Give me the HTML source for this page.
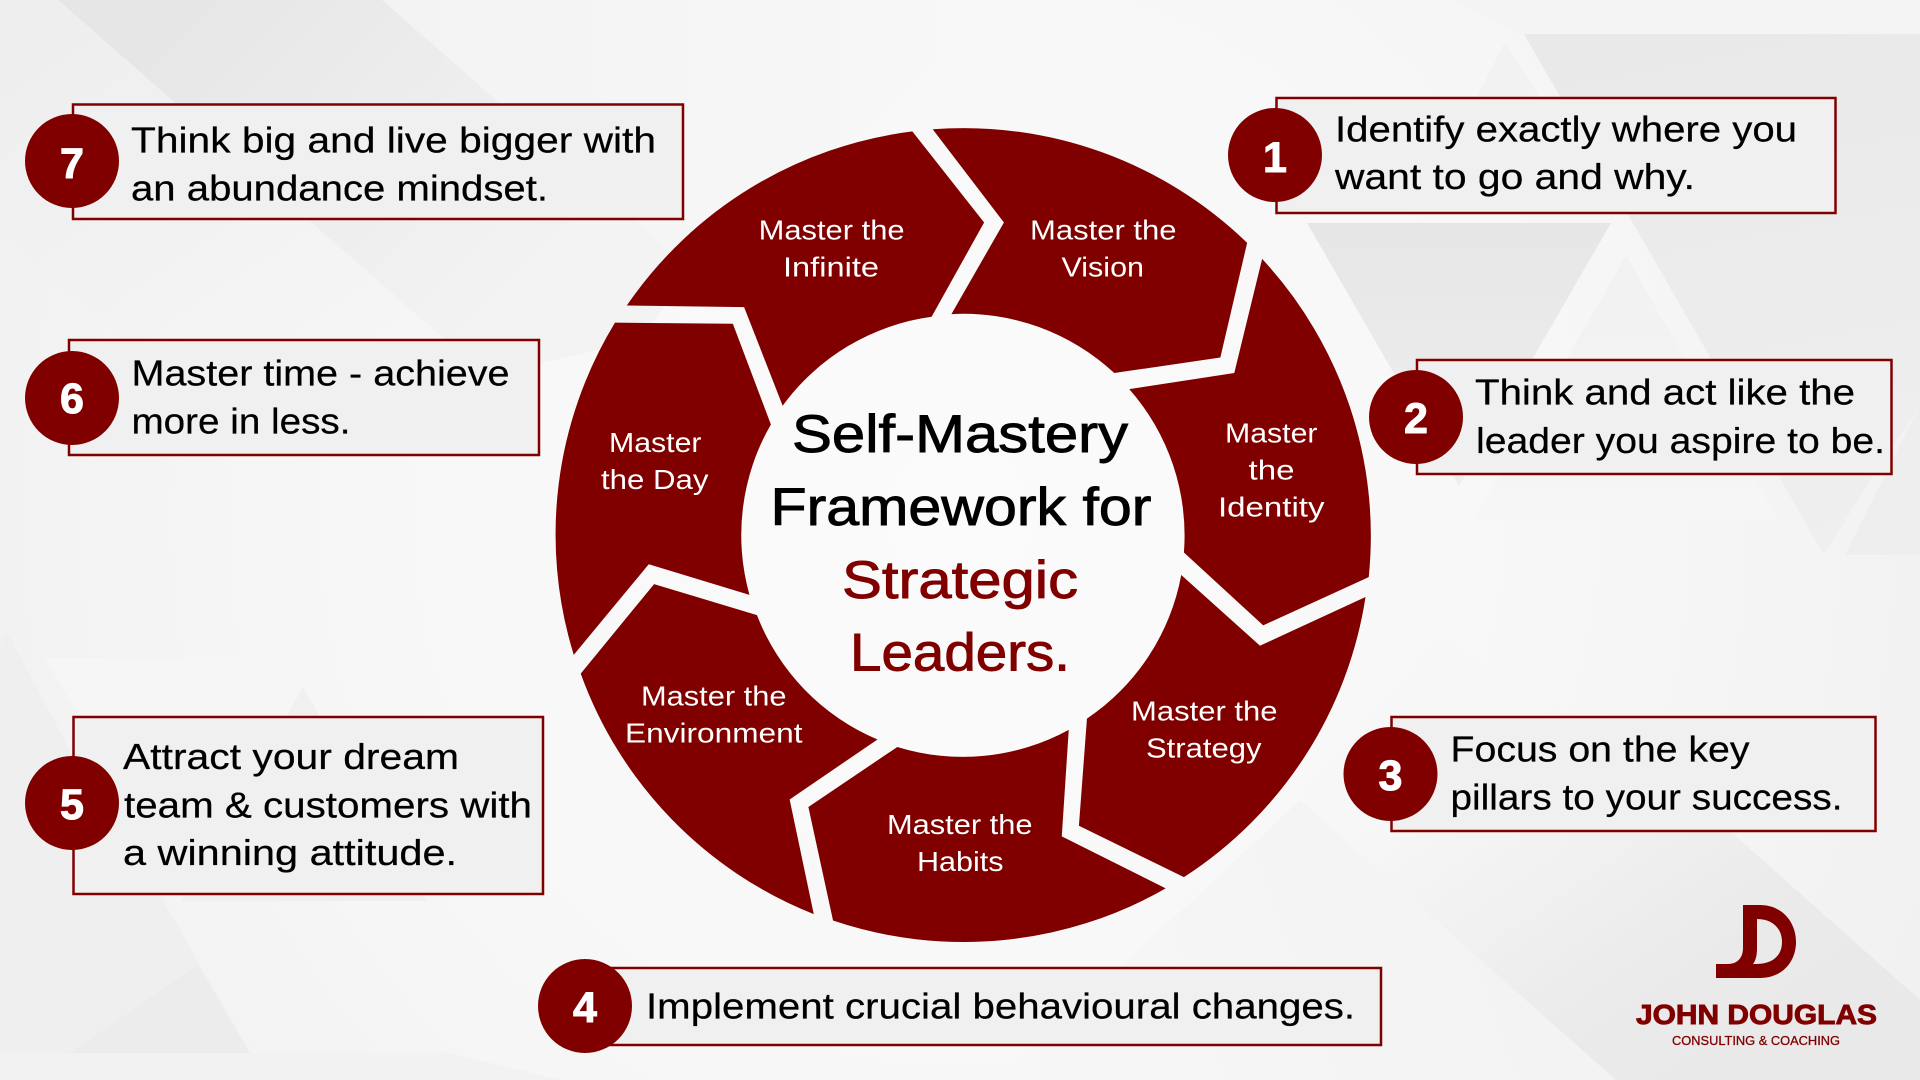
<!DOCTYPE html>
<html lang="en">
<head>
<meta charset="utf-8">
<title>Self-Mastery Framework for Strategic Leaders</title>
<style>
html,body{margin:0;padding:0;width:1920px;height:1080px;overflow:hidden;background:#f5f5f5}
svg{display:block}
text{font-family:"Liberation Sans",sans-serif}
.c{font-size:36px;fill:#000;stroke:#000;stroke-width:.25}
.r{font-size:27.5px;fill:#fff}
.n{font-size:43px;font-weight:bold;fill:#fff;text-anchor:middle;stroke:#fff;stroke-width:1}
.t{font-size:53px;stroke-width:.9}
.box{fill:#f0f0f0;stroke:#800000;stroke-width:2.5}
</style>
</head>
<body>
<svg xmlns="http://www.w3.org/2000/svg" width="1920" height="1080" viewBox="0 0 1920 1080">
<defs>
<radialGradient id="bg" gradientUnits="userSpaceOnUse" cx="960" cy="520" r="1120">
<stop offset="0" stop-color="#fbfbfb"/><stop offset=".55" stop-color="#f7f7f7"/><stop offset="1" stop-color="#f0f0f0"/>
</radialGradient>
<linearGradient id="tl1" gradientUnits="userSpaceOnUse" x1="170" y1="10" x2="480" y2="330">
<stop offset="0" stop-color="#e6e6e6"/><stop offset="1" stop-color="#f3f3f3"/>
</linearGradient>
<linearGradient id="tl2" gradientUnits="userSpaceOnUse" x1="30" y1="30" x2="300" y2="430">
<stop offset="0" stop-color="#eeeeee"/><stop offset="1" stop-color="#f6f6f6"/>
</linearGradient>
<linearGradient id="tl3" gradientUnits="userSpaceOnUse" x1="400" y1="0" x2="1000" y2="0">
<stop offset="0" stop-color="#f3f3f3"/><stop offset="1" stop-color="#f8f8f8"/>
</linearGradient>
<linearGradient id="br1" gradientUnits="userSpaceOnUse" x1="1520" y1="720" x2="1740" y2="1040">
<stop offset="0" stop-color="#f7f7f7"/><stop offset=".7" stop-color="#ebebeb"/><stop offset="1" stop-color="#e9e9e9"/>
</linearGradient>
<linearGradient id="br2" gradientUnits="userSpaceOnUse" x1="1000" y1="1080" x2="1500" y2="900">
<stop offset="0" stop-color="#f7f7f7"/><stop offset="1" stop-color="#f3f3f3"/>
</linearGradient>
<linearGradient id="tr1" gradientUnits="userSpaceOnUse" x1="1460" y1="223" x2="1460" y2="486">
<stop offset="0" stop-color="#e6e6e6"/><stop offset="1" stop-color="#efefef"/>
</linearGradient>
<linearGradient id="tr2" gradientUnits="userSpaceOnUse" x1="1700" y1="34" x2="1800" y2="555">
<stop offset="0" stop-color="#e9e9e9"/><stop offset="1" stop-color="#efefef"/>
</linearGradient>
<linearGradient id="tr3" gradientUnits="userSpaceOnUse" x1="1626" y1="256" x2="1626" y2="520">
<stop offset="0" stop-color="#f1f1f1"/><stop offset="1" stop-color="#f6f6f6"/>
</linearGradient>
</defs>
<rect width="1920" height="1080" fill="url(#bg)"/>

<!-- background facets -->
<polygon points="0,0 58,0 442,337 470,380 268,464 0,237" fill="url(#tl2)"/>
<polygon points="382,0 1000,0 700,280 640,230" fill="url(#tl3)"/>
<polygon points="58,0 382,0 690,270 640,340 470,380 442,337" fill="url(#tl1)"/>
<polygon points="7,632 75,760 160,895 250,1053 0,1053 0,645" fill="#efefef"/>
<polygon points="45,658 290,658 170,870" fill="#f6f6f6"/>
<polygon points="303,687 427,901 181,901" fill="#f0f0f0"/>
<polygon points="198,965 250,1053 70,1053" fill="#ececec"/>
<polygon points="0,1053 450,1053 560,1080 0,1080" fill="#f2f2f2"/>
<polygon points="1450,0 1920,0 1920,34 1524,34" fill="#f4f4f4"/>
<polygon points="1524,34 1920,34 1920,405 1870,480 1824,555" fill="url(#tr2)"/>
<polygon points="1505,42 1560,130 1460,130" fill="#f2f2f2"/>
<polygon points="1307,223 1611,223 1459,486" fill="url(#tr1)"/>
<polygon points="1626,256 1778,520 1474,520" fill="url(#tr3)"/>
<polygon points="1920,405 1920,555 1845,555" fill="#eeeeee"/>
<polygon points="1300,800 1616,1080 1000,1080" fill="url(#br2)"/>
<polygon points="1440,640 1650,760 1920,1000 1920,1080 1616,1080 1300,800" fill="url(#br1)"/>

<!-- callout boxes -->
<rect class="box" x="73" y="104.5" width="610" height="114.5"/>
<rect class="box" x="69" y="340" width="470" height="115"/>
<rect class="box" x="73.5" y="717" width="469.5" height="177"/>
<rect class="box" x="585" y="968" width="796" height="77"/>
<rect class="box" x="1276.5" y="98" width="559" height="115"/>
<rect class="box" x="1417" y="360" width="474.5" height="114"/>
<rect class="box" x="1391.5" y="717" width="484" height="114"/>

<!-- ring -->
<g transform="translate(540 110) scale(0.53571)" fill="#800000">
<path d="M733 36 A760 760 0 0 1 1320 248 L1270 462 L1072 491 A413 413 0 0 0 768 381 L866 210 Z"/>
<path d="M1348 278 A760 760 0 0 1 1547 872 L1350 962 L1202 826 A413 413 0 0 0 1100 521 L1296 491 Z"/>
<path d="M1541 909 A760 760 0 0 1 1202 1432 L1006 1336 L1021 1136 A413 413 0 0 0 1197 868 L1344 1000 Z"/>
<path d="M1168 1453 A760 760 0 0 1 547 1513 L501 1301 L667 1189 A413 413 0 0 0 987 1157 L974 1356 Z"/>
<path d="M511 1501 A760 760 0 0 1 76 1052 L213 885 L405 943 A413 413 0 0 0 630 1175 L466 1287 Z"/>
<path d="M63 1017 A760 760 0 0 1 140 397 L360 399 L431 587 A413 413 0 0 0 391 905 L203 848 Z"/>
<path d="M162 365 A760 760 0 0 1 695 40 L829 210 L731 386 A413 413 0 0 0 453 552 L381 368 Z"/>
</g>

<!-- ring labels -->
<g>
<text class="r" x="758.6" y="239.6" textLength="146" lengthAdjust="spacingAndGlyphs">Master the</text>
<text class="r" x="783" y="276.6" textLength="96" lengthAdjust="spacingAndGlyphs">Infinite</text>
<text class="r" x="1030" y="239.6" textLength="146.5" lengthAdjust="spacingAndGlyphs">Master the</text>
<text class="r" x="1061.5" y="276.6" textLength="82.5" lengthAdjust="spacingAndGlyphs">Vision</text>
<text class="r" x="1225" y="442.6" textLength="92.5" lengthAdjust="spacingAndGlyphs">Master</text>
<text class="r" x="1248.5" y="479.6" textLength="46" lengthAdjust="spacingAndGlyphs">the</text>
<text class="r" x="1218" y="516.5" textLength="106.5" lengthAdjust="spacingAndGlyphs">Identity</text>
<text class="r" x="1131" y="720.6" textLength="146.5" lengthAdjust="spacingAndGlyphs">Master the</text>
<text class="r" x="1146" y="757.6" textLength="115.5" lengthAdjust="spacingAndGlyphs">Strategy</text>
<text class="r" x="887" y="834" textLength="145.5" lengthAdjust="spacingAndGlyphs">Master the</text>
<text class="r" x="917" y="871" textLength="86.5" lengthAdjust="spacingAndGlyphs">Habits</text>
<text class="r" x="641" y="705.6" textLength="145.5" lengthAdjust="spacingAndGlyphs">Master the</text>
<text class="r" x="625" y="742.6" textLength="177.5" lengthAdjust="spacingAndGlyphs">Environment</text>
<text class="r" x="609" y="452" textLength="92.5" lengthAdjust="spacingAndGlyphs">Master</text>
<text class="r" x="601" y="489" textLength="107.5" lengthAdjust="spacingAndGlyphs">the Day</text>
</g>

<!-- centre title -->
<text class="t" x="792" y="452" fill="#000" stroke="#000" textLength="336" lengthAdjust="spacingAndGlyphs">Self-Mastery</text>
<text class="t" x="770.5" y="525" fill="#000" stroke="#000" textLength="381" lengthAdjust="spacingAndGlyphs">Framework for</text>
<text class="t" x="842" y="597.8" fill="#800000" stroke="#800000" textLength="236" lengthAdjust="spacingAndGlyphs">Strategic</text>
<text class="t" x="850" y="670.5" fill="#800000" stroke="#800000" textLength="220" lengthAdjust="spacingAndGlyphs">Leaders.</text>

<!-- number circles -->
<g fill="#800000">
<circle cx="1275" cy="155" r="47"/>
<circle cx="1416" cy="417" r="47"/>
<circle cx="1390.5" cy="774" r="47"/>
<circle cx="585" cy="1006" r="47"/>
<circle cx="72" cy="803" r="47"/>
<circle cx="72" cy="398" r="47"/>
<circle cx="72" cy="161" r="47"/>
</g>
<text class="n" x="1275" y="172">1</text>
<text class="n" x="1416" y="433">2</text>
<text class="n" x="1390.5" y="790">3</text>
<text class="n" x="585" y="1022">4</text>
<text class="n" x="72" y="819">5</text>
<text class="n" x="72" y="413">6</text>
<text class="n" x="72" y="178">7</text>

<!-- callout text -->
<text class="c" x="131" y="152.5" textLength="525" lengthAdjust="spacingAndGlyphs">Think big and live bigger with</text>
<text class="c" x="131" y="200.5" textLength="417" lengthAdjust="spacingAndGlyphs">an abundance mindset.</text>
<text class="c" x="131.5" y="385.5" textLength="378" lengthAdjust="spacingAndGlyphs">Master time - achieve</text>
<text class="c" x="131.5" y="433.5" textLength="219" lengthAdjust="spacingAndGlyphs">more in less.</text>
<text class="c" x="123" y="769" textLength="336" lengthAdjust="spacingAndGlyphs">Attract your dream</text>
<text class="c" x="124" y="817.5" textLength="408" lengthAdjust="spacingAndGlyphs">team &amp; customers with</text>
<text class="c" x="123" y="865" textLength="334" lengthAdjust="spacingAndGlyphs">a winning attitude.</text>
<text class="c" x="646" y="1018.5" textLength="709" lengthAdjust="spacingAndGlyphs">Implement crucial behavioural changes.</text>
<text class="c" x="1335" y="141.5" textLength="462" lengthAdjust="spacingAndGlyphs">Identify exactly where you</text>
<text class="c" x="1335" y="189" textLength="360" lengthAdjust="spacingAndGlyphs">want to go and why.</text>
<text class="c" x="1475" y="404.5" textLength="380" lengthAdjust="spacingAndGlyphs">Think and act like the</text>
<text class="c" x="1476" y="453" textLength="409" lengthAdjust="spacingAndGlyphs">leader you aspire to be.</text>
<text class="c" x="1450.5" y="761.5" textLength="299" lengthAdjust="spacingAndGlyphs">Focus on the key</text>
<text class="c" x="1450.5" y="809.5" textLength="392" lengthAdjust="spacingAndGlyphs">pillars to your success.</text>

<!-- logo -->
<path fill="#800000" fill-rule="evenodd" d="M1743 905 H1760 C1782 905 1796 922 1796 942 C1796 962 1782 978 1760 978 H1716 V964 H1728 C1738 964 1743 957 1743 948 Z M1757 919 V948 C1757 955 1756 960 1753 964 H1757 C1772 964 1782 956 1782 942 C1782 928 1772 919 1757 919 Z"/>
<text x="1636" y="1024" font-size="28" font-weight="bold" fill="#800000" stroke="#800000" stroke-width=".9" textLength="241" lengthAdjust="spacingAndGlyphs">JOHN DOUGLAS</text>
<text x="1672" y="1045" font-size="13" fill="#800000" stroke="#800000" stroke-width=".3" textLength="168" lengthAdjust="spacingAndGlyphs">CONSULTING &amp; COACHING</text>
</svg>
</body>
</html>
